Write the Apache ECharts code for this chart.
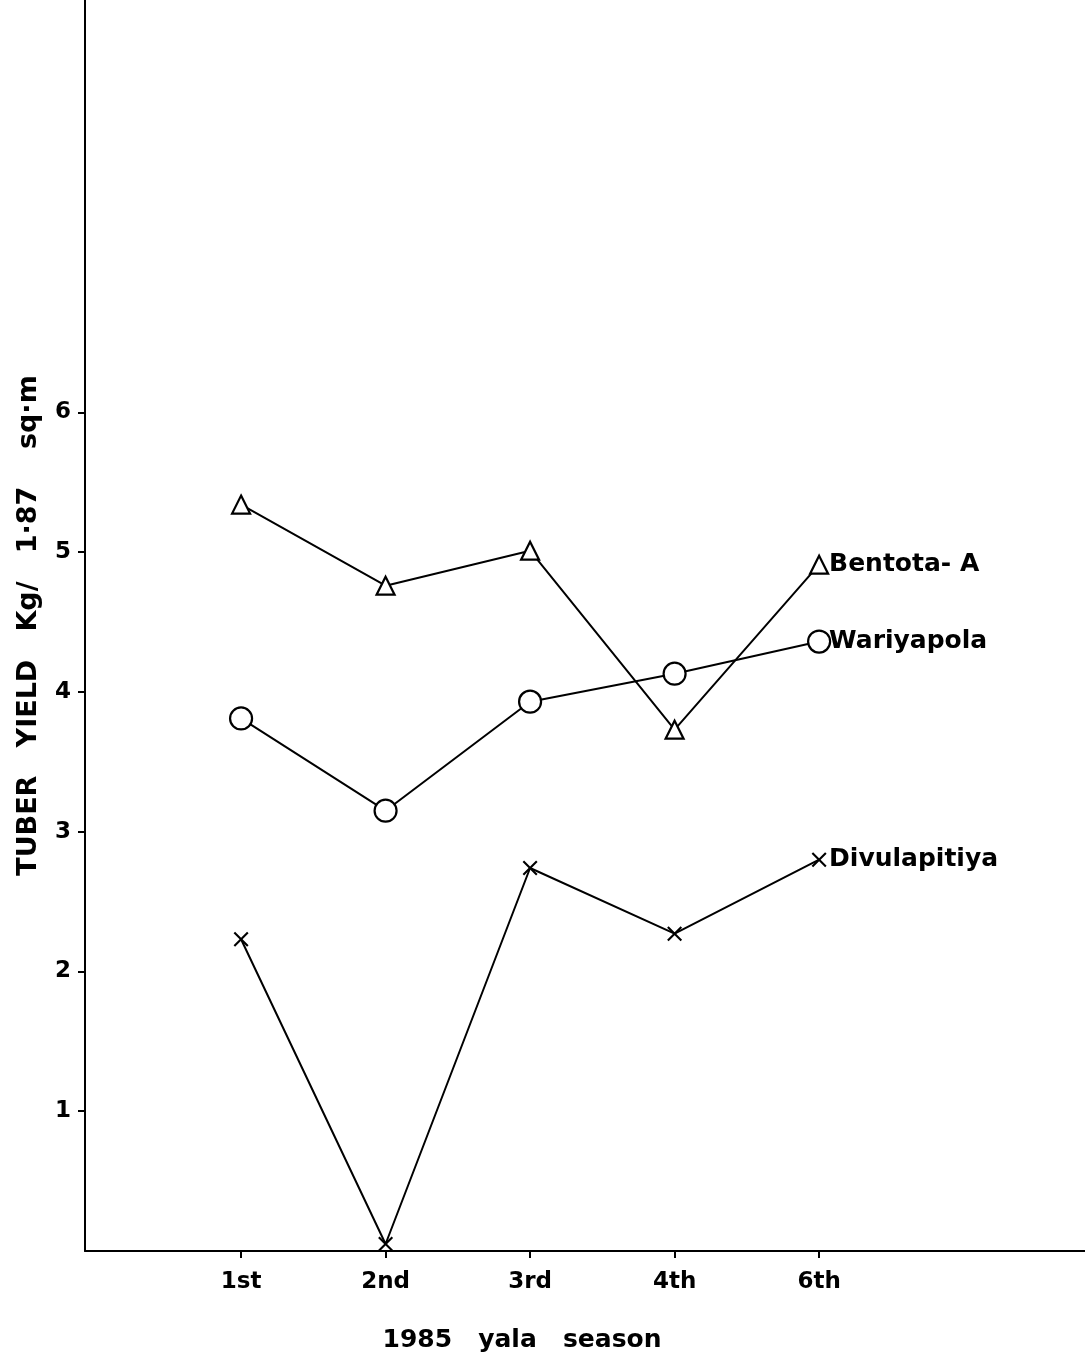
<!DOCTYPE html>
<html>
<head>
<meta charset="utf-8">
<script src="https://cdn.jsdelivr.net/npm/echarts@6/dist/echarts.min.js"></script>
<style>
  html, body { margin: 0; padding: 0; background: #fff; }
  #chart { width: 1085px; height: 1363px; }
</style>
</head>
<body>
<div id="chart"></div>
<script>
// seasons (1985 yala)
const seasons = ['1st', '2nd', '3rd', '4th', '6th'];
const bentota = [5.34, 4.76, 5.01, 3.73, 4.91];
const wariyapola = [3.81, 3.15, 3.93, 4.13, 4.36];
const divulapitiya = [2.23, 0.05, 2.74, 2.27, 2.80];
const yTicks = [1, 2, 3, 4, 5, 6];

const crossPath = 'path://M0,1 L1,0 L5,4 L9,0 L10,1 L6,5 L10,9 L9,10 L5,6 L1,10 L0,9 L4,5 Z';
const font = 'DejaVu Sans';

function toPoints(values) {
  return values.map((v, i) => [i + 1, v]);
}

function makeSeries(name, values, symbol, size, filled) {
  return {
    name: name,
    type: 'line',
    data: toPoints(values),
    symbol: symbol,
    symbolSize: size,
    showAllSymbol: true,
    lineStyle: { color: '#000', width: 2 },
    itemStyle: filled
      ? { color: '#000', borderWidth: 0 }
      : { color: '#fff', borderColor: '#000', borderWidth: 2.2 },
    endLabel: {
      show: true,
      formatter: name,
      distance: 10,
      color: '#000',
      fontFamily: font,
      fontWeight: 'bold',
      fontSize: 25
    },
    animation: false,
    z: 3
  };
}

const chart = echarts.init(document.getElementById('chart'));
chart.setOption({
  backgroundColor: '#fff',
  animation: false,
  grid: { left: 85, right: 0, top: 0, bottom: 112 },
  xAxis: {
    type: 'value',
    min: -0.08,
    max: 6.84,
    splitLine: { show: false },
    axisLine: { lineStyle: { color: '#000', width: 2 } },
    axisTick: {
      show: true,
      customValues: [1, 2, 3, 4, 5],
      length: 7,
      lineStyle: { color: '#000', width: 2 }
    },
    axisLabel: {
      customValues: [1, 2, 3, 4, 5],
      formatter: v => seasons[Math.round(v) - 1] || '',
      margin: 20,
      color: '#000',
      fontFamily: font,
      fontWeight: 'bold',
      fontSize: 23
    }
  },
  yAxis: {
    type: 'value',
    min: 0,
    max: 8.95,
    name: 'TUBER   YIELD   Kg/   1·87    sq·m',
    nameLocation: 'middle',
    nameGap: 43,
    nameTextStyle: {
      color: '#000',
      fontFamily: font,
      fontSize: 27,
      fontWeight: 'bold'
    },
    splitLine: { show: false },
    axisLine: { onZero: false, lineStyle: { color: '#000', width: 2 } },
    axisTick: {
      show: true,
      customValues: yTicks,
      length: 7,
      lineStyle: { color: '#000', width: 2 }
    },
    axisLabel: {
      customValues: yTicks,
      margin: 14,
      color: '#000',
      fontFamily: font,
      fontWeight: 'bold',
      fontSize: 23
    }
  },
  graphic: [{
    type: 'text',
    x: 522,
    y: 1340,
    style: {
      text: '1985   yala   season',
      align: 'center',
      verticalAlign: 'middle',
      fill: '#000',
      font: 'bold 25px "DejaVu Sans"'
    }
  }],
  series: [
    makeSeries('Bentota- A', bentota, 'triangle', 18, false),
    makeSeries('Wariyapola', wariyapola, 'circle', 22, false),
    makeSeries('Divulapitiya', divulapitiya, crossPath, 15, true)
  ]
});
</script>
</body>
</html>
